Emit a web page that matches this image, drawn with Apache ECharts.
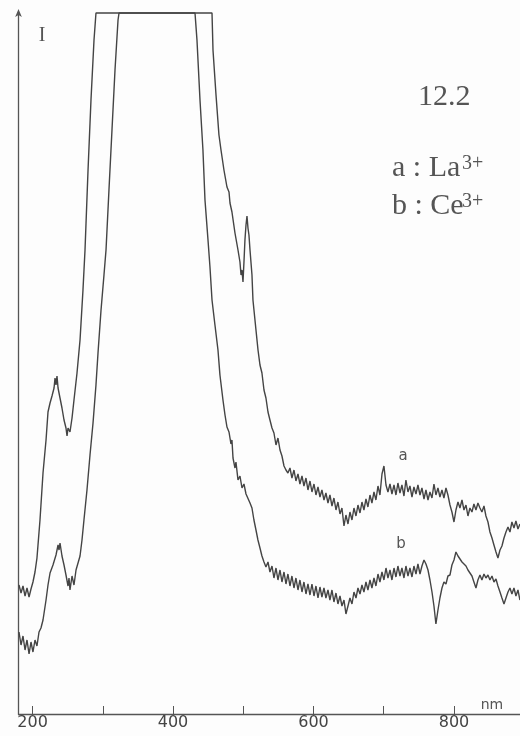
<!DOCTYPE html>
<html><head><meta charset="utf-8">
<script src="https://cdn.jsdelivr.net/npm/echarts@6/dist/echarts.min.js"></script>
<style>html,body{margin:0;padding:0;background:#fff}#c{width:520px;height:736px}</style>
</head><body><div id="c"></div>
<script>
// Wavelength (nm) and relative intensity (arbitrary units, 701 = detector saturation)
const tailWavelength = [566.5,569.3,572.2,575.0,577.9,580.7,583.6,586.4,589.3,592.1,595.0,597.8,600.7,603.5,606.4,609.2,612.0,614.9,617.7,620.6,623.4,626.3,629.1,632.0,634.8,637.7,640.5,643.4,646.2,649.1,651.9,654.8,657.6,660.5,663.3,666.2,669.0,671.8,674.7,677.5,680.4,683.2,686.1,688.9,691.8,694.6,697.5,700.3,703.2,706.0,708.9,711.7,714.6,717.4,720.2,723.1,725.9,728.8,731.6,734.5,737.3,740.2,743.0,745.9,748.7,751.6,754.4,757.3,760.1,763.0,765.8,768.7,771.5,774.3,777.2,780.0,782.9,785.7,788.6,791.4,794.3,797.1,800.0,802.8,805.7,808.5,811.4,814.2,817.1,819.9,822.7,825.6,828.4,831.3,834.1,837.0,839.8,842.7,845.5,848.4,851.2,854.1,856.9,859.8,862.6,865.5,868.3,871.2,874.0,876.9,879.7,882.5,885.4,888.2,891.1,893.9];

const aWavelength = [180.7,183.6,186.4,189.3,192.1,195.0,197.8,200.6,203.5,206.3,210.6,214.9,219.2,222.0,224.9,227.7,230.6,232.0,233.4,234.8,236.3,239.1,241.9,244.8,247.6,249.1,250.5,253.3,256.2,259.0,263.3,267.6,271.8,274.7,279.0,283.2,287.5,290.3,455.5,456.9,461.2,465.4,468.3,472.5,476.8,479.7,481.1,483.9,488.2,492.5,495.3,496.8,498.2,499.6,501.0,502.4,503.9,505.3,506.7,508.1,509.6,512.4,513.8,518.1,521.0,523.8,526.6,529.5,532.3,535.2,538.0,540.9,543.7,546.6,549.4,552.3,555.1,558.0,560.8,563.6].concat(tailWavelength);
const aIntensity = [129,121,128,118,126,117,125,132,142,156,194,241,274,302,311,318,326,336,329,338,326,316,306,294,286,278,286,282,296,314,341,374,424,464,544,614,674,701,701,664,619,579,564,544,527,522,511,502,481,464,452,439,444,432,452,474,489,498,486,479,464,439,414,384,364,349,341,324,316,302,294,286,281,269,276,264,258,248,244,241,
246,236,244,233,240,230,238,228,236,224,233,222,230,219,227,217,224,214,221,211,219,208,216,204,212,200,206,188,199,190,202,194,206,198,209,201,212,204,215,207,219,211,222,214,228,219,240,248,229,222,230,220,229,219,231,221,229,218,234,222,228,217,227,220,229,219,226,215,224,214,222,216,230,219,226,217,224,216,226,219,209,202,192,204,212,206,214,204,209,198,206,202,210,204,211,206,202,208,198,192,182,176,169,162,156,164,168,176,182,187,182,192,186,193,185,190];

const bWavelength = [180.7,183.6,186.4,189.3,192.1,195.0,197.8,200.6,203.5,206.3,209.2,212.0,214.9,219.2,222.0,224.9,229.1,233.4,236.3,237.7,239.1,241.9,244.8,247.6,250.5,251.9,253.3,256.2,259.0,261.9,264.7,267.6,270.4,273.2,277.5,281.8,286.1,290.3,293.2,297.5,301.7,304.6,308.8,313.1,317.4,321.7,323.1,431.3,434.1,438.4,442.6,445.5,449.8,452.6,455.5,459.7,464.0,466.8,471.1,474.0,476.8,479.7,482.5,483.9,485.4,488.2,489.6,492.5,495.3,498.2,501.0,503.9,506.7,509.6,512.4,515.2,518.1,520.9,523.8,526.6,529.5,532.3,535.2,538.0,540.9,543.7,546.6,549.4,552.3,555.1,558.0,560.8,563.6].concat(tailWavelength);
const bIntensity = [82,69,78,64,74,60,72,62,74,68,82,86,94,114,129,141,149,159,169,164,171,158,149,139,128,136,124,138,129,144,142,158,174,194,224,259,291,329,361,404,439,464,524,584,644,694,701,701,674,614,564,514,474,447,414,389,364,339,314,299,287,282,270,274,256,246,252,234,238,226,230,220,222,211,206,194,184,174,166,158,152,147,
152,142,148,136,146,134,144,132,142,130,140,
128,138,126,136,124,134,122,132,120,130,119,130,118,128,116,127,117,126,116,124,114,124,112,121,110,118,108,114,100,108,116,110,122,116,126,120,129,122,132,124,134,126,136,128,140,132,142,134,146,136,144,134,146,137,148,138,146,136,148,138,146,137,148,140,150,140,148,154,150,144,134,122,108,90,104,116,126,132,130,138,139,149,154,162,158,160,152,154,148,144,146,138,132,126,134,139,134,140,136,139,134,138,132,135,128,122,116,110,116,122,126,120,126,118,124,114];

const tickValues = [200,300,400,500,600,700,800];
const labelValues = [200,400,600,800];

function pairs(xs, ys){ const n=Math.min(xs.length, ys.length); const o=[]; for(let i=0;i<n;i++) o.push([xs[i], ys[i]]); return o; }

const ink = '#444';
const chart = echarts.init(document.getElementById('c'), null, {renderer:'canvas'});
chart.setOption({
  backgroundColor: '#fdfdfd',
  animation: false,
  grid: {left: 18.5, right: 0, top: 13, bottom: 22, containLabel: false},
  xAxis: {
    type: 'value', min: 180, max: 894,
    axisLine: {show: true, lineStyle: {color: '#555', width: 1.3}},
    axisTick: {show: true, inside: true, length: 8, customValues: tickValues, lineStyle: {color: '#555', width: 1}},
    axisLabel: {show: true, customValues: labelValues, margin: 1, fontFamily: 'DejaVu Sans', fontSize: 16, color: '#444'},
    splitLine: {show: false}
  },
  yAxis: {
    type: 'value', min: 0, max: 701,
    axisLine: {show: true, symbol: ['none','arrow'], symbolSize: [5,8], symbolOffset: [0,4], lineStyle: {color: '#555', width: 1.3}},
    axisTick: {show: false}, axisLabel: {show: false}, splitLine: {show: false}
  },
  series: [
    {name: 'a', type: 'line', data: pairs(aWavelength, aIntensity), showSymbol: false, clip: false,
     lineStyle: {color: ink, width: 1.4}},
    {name: 'b', type: 'line', data: pairs(bWavelength, bIntensity), showSymbol: false, clip: false,
     lineStyle: {color: ink, width: 1.4}}
  ],
  graphic: [
    {type:'text', x:42, y:36, style:{text:'I', font:'20px "Liberation Serif"', fill:'#555', align:'center', verticalAlign:'middle', textAlign:'center', textVerticalAlign:'middle'}},
    {type:'text', x:418, y:97, style:{text:'12.2', font:'30px "Liberation Serif"', fill:'#555', align:'left', verticalAlign:'middle', textAlign:'left', textVerticalAlign:'middle'}},
    {type:'text', x:392, y:168, style:{text:'a : La', font:'30px "Liberation Serif"', fill:'#555', align:'left', verticalAlign:'middle', textAlign:'left', textVerticalAlign:'middle'}},
    {type:'text', x:462, y:164, style:{text:'3+', font:'20px "Liberation Serif"', fill:'#555', align:'left', verticalAlign:'middle', textAlign:'left', textVerticalAlign:'middle'}},
    {type:'text', x:392, y:206, style:{text:'b : Ce', font:'30px "Liberation Serif"', fill:'#555', align:'left', verticalAlign:'middle', textAlign:'left', textVerticalAlign:'middle'}},
    {type:'text', x:462, y:202, style:{text:'3+', font:'20px "Liberation Serif"', fill:'#555', align:'left', verticalAlign:'middle', textAlign:'left', textVerticalAlign:'middle'}},
    {type:'text', x:403, y:456, style:{text:'a', font:'15px "DejaVu Sans"', fill:'#555', align:'center', verticalAlign:'middle', textAlign:'center', textVerticalAlign:'middle'}},
    {type:'text', x:401, y:544, style:{text:'b', font:'15px "DejaVu Sans"', fill:'#555', align:'center', verticalAlign:'middle', textAlign:'center', textVerticalAlign:'middle'}},
    {type:'text', x:492, y:705, style:{text:'nm', font:'14px "DejaVu Sans"', fill:'#555', align:'center', verticalAlign:'middle', textAlign:'center', textVerticalAlign:'middle'}}
  ]
});
</script></body></html>
